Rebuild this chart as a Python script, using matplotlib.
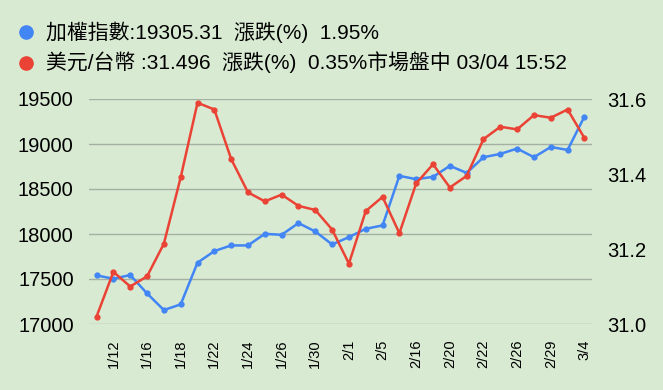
import matplotlib.pyplot as plt
from matplotlib.lines import Line2D

# 日期標籤(每兩筆顯示一個)
dates = ['1/11', '1/12', '1/15', '1/16', '1/17', '1/18', '1/19', '1/22', '1/23', '1/24',
         '1/25', '1/26', '1/29', '1/30', '1/31', '2/1', '2/2', '2/5', '2/15', '2/16',
         '2/19', '2/20', '2/21', '2/22', '2/23', '2/26', '2/27', '2/29', '3/1', '3/4']

# 加權指數
taiex = [17540, 17503, 17544, 17340, 17155, 17218, 17681, 17810, 17873, 17873,
         18002, 17991, 18121, 18028, 17884, 17965, 18058, 18095, 18646, 18609,
         18635, 18757, 18679, 18853, 18890, 18949, 18853, 18967, 18934, 19305.31]

# 美元/台幣
usdtwd = [31.020, 31.139, 31.100, 31.127, 31.214, 31.391, 31.590, 31.572, 31.440, 31.351,
          31.327, 31.345, 31.315, 31.304, 31.252, 31.161, 31.301, 31.339, 31.242, 31.375,
          31.426, 31.364, 31.395, 31.493, 31.526, 31.519, 31.557, 31.550, 31.572, 31.496]

left_ticks = [17000, 17500, 18000, 18500, 19000, 19500]
right_ticks = [31.0, 31.2, 31.4, 31.6]

legend_lines = ['加權指數:19305.31  漲跌(%)  1.95%',
                '美元/台幣 :31.496  漲跌(%)  0.35%市場盤中 03/04 15:52']

plt.rcParams['font.family'] = ['Liberation Sans', 'Noto Sans CJK TC']

bg = '#d9ead3'
blue = '#4285f4'
red = '#ea4335'

fig = plt.figure(figsize=(6.63, 3.90), dpi=100, facecolor=bg)
ax = fig.add_axes([89 / 663, 66 / 390, 503 / 663, 225 / 390])
ax.set_facecolor(bg)
ax2 = ax.twinx()

x = list(range(len(dates)))
ax.plot(x, taiex, color=blue, lw=1.8, marker='o', ms=3.5, zorder=3)
ax2.plot(x, usdtwd, color=red, lw=1.8, marker='o', ms=3.5, zorder=3)

ax.set_xlim(-0.45, len(dates) - 1 + 0.45)
ax.set_ylim(17000, 19500)
ax2.set_ylim(31.0, 31.6)
ax.set_yticks(left_ticks)
ax.set_yticklabels([str(v) for v in left_ticks])
ax2.set_yticks(right_ticks)
ax2.set_yticklabels(['%.1f' % v for v in right_ticks])
ax.set_xticks(x[1::2])
ax.set_xticklabels(dates[1::2], rotation=90, fontsize=10.5)

ax.grid(axis='y', color='#a4b0a1', lw=1)
ax.set_axisbelow(True)
for a in (ax, ax2):
    for s in a.spines.values():
        s.set_visible(False)
ax.tick_params(axis='y', length=0, labelsize=14.5, pad=11)
ax2.tick_params(axis='y', length=0, labelsize=14.5, pad=11)
ax.tick_params(axis='x', length=0, pad=11)

# 圖例
for i, (txt, c) in enumerate(zip(legend_lines, [blue, red])):
    yy = 1 - (32 + 30.5 * i) / 390
    fig.add_artist(Line2D([26 / 663], [yy], marker='o', ms=9.5, color=c,
                          transform=fig.transFigure))
    fig.text(46 / 663, yy, txt, fontsize=15, va='center', ha='left')

fig.savefig('out.png', dpi=100, facecolor=bg)
